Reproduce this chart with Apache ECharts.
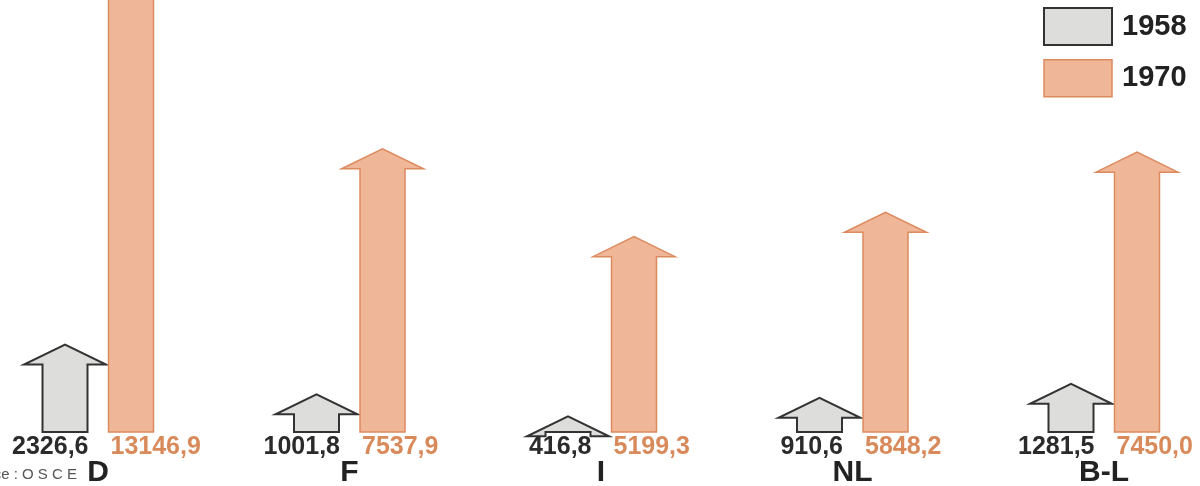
<!DOCTYPE html>
<html>
<head>
<meta charset="utf-8">
<script src="https://cdn.jsdelivr.net/npm/echarts@6/dist/echarts.min.js"></script>
<style>
html,body{margin:0;padding:0;background:#fff;}
#chart{width:1200px;height:486px;}
</style>
</head>
<body>
<div id="chart"></div>
<script>
var categories = ['D', 'F', 'I', 'NL', 'B-L'];
var values1958 = [2326.6, 1001.8, 416.8, 910.6, 1281.5];
var values1970 = [13146.9, 7537.9, 5199.3, 5848.2, 7450.0];
var labels1958 = ['2326,6', '1001,8', '416,8', '910,6', '1281,5'];
var labels1970 = ['13146,9', '7537,9', '5199,3', '5848,2', '7450,0'];
var seriesNames = ['1958', '1970'];

var FONT = '"Liberation Sans", Arial, Helvetica, sans-serif';
var styles = {
  '1958': { fill: '#dddddb', stroke: '#333333', lw: 2, text: '#2b2b2b', offset: -33 },
  '1970': { fill: '#efb697', stroke: '#dc8a5e', lw: 1.5, text: '#d98a5a', offset: 33 }
};

function makeRender(name, labels) {
  var st = styles[name];
  return function (params, api) {
    var idx = api.value(0);
    var top = api.coord([idx, api.value(1)]);
    var base = api.coord([idx, 0]);
    var cx = base[0] + st.offset;
    var bw = 22.5, hw = 41, hh = 20;
    var tipY = top[1], by = base[1];
    var headBase = tipY + hh;
    var pts = [
      [cx - bw, by], [cx - bw, headBase], [cx - hw, headBase], [cx, tipY],
      [cx + hw, headBase], [cx + bw, headBase], [cx + bw, by]
    ];
    var isLeft = name === '1958';
    return {
      type: 'group',
      children: [
        { type: 'polygon', shape: { points: pts },
          style: { fill: st.fill, stroke: st.stroke, lineWidth: st.lw, lineJoin: 'miter' } },
        { type: 'text',
          style: {
            text: labels[params.dataIndex],
            x: isLeft ? cx + bw + 1 : cx - bw + 2,
            y: by + 15,
            align: isLeft ? 'right' : 'left',
            verticalAlign: 'middle',
            fill: st.text,
            font: 'bold 25px ' + FONT
          } }
      ]
    };
  };
}

var option = {
  animation: false,
  grid: { left: 0, right: 0, top: 0, bottom: 54, containLabel: false, outerBoundsMode: 'none' },
  xAxis: {
    type: 'value',
    min: -0.3897,
    max: 4.3817,
    splitLine: { show: false },
    axisLine: { show: false },
    axisTick: { show: false },
    axisLabel: {
      customValues: [0, 1, 2, 3, 4],
      formatter: function (v) { return categories[Math.round(v)] || ''; },
      margin: 26, fontSize: 30, fontWeight: 'bold', color: '#222', fontFamily: FONT
    }
  },
  yAxis: { type: 'value', min: 0, max: 11500, show: false, splitLine: { show: false } },
  legend: {
    orient: 'vertical',
    left: 1043, top: 7, padding: 0,
    itemWidth: 68, itemHeight: 37, itemGap: 13,
    textStyle: { fontSize: 29, fontWeight: 'bold', color: '#222', fontFamily: FONT, padding: [0, 0, 0, 5] },
    data: [
      { name: '1958', icon: 'rect', itemStyle: { color: styles['1958'].fill, borderColor: styles['1958'].stroke, borderWidth: 2 } },
      { name: '1970', icon: 'rect', itemStyle: { color: styles['1970'].fill, borderColor: styles['1970'].stroke, borderWidth: 1.5 } }
    ]
  },
  graphic: [
    { type: 'text', right: 1123, top: 467,
      style: { text: 'Source : O S C E', font: '15px ' + FONT, fill: '#555', align: 'right' } }
  ],
  series: [
    { name: '1958', type: 'custom', clip: false,
      itemStyle: { color: styles['1958'].fill, borderColor: styles['1958'].stroke },
      renderItem: makeRender('1958', labels1958),
      encode: { x: 0, y: 1 },
      data: values1958.map(function (v, i) { return [i, v]; }) },
    { name: '1970', type: 'custom', clip: false,
      itemStyle: { color: styles['1970'].fill, borderColor: styles['1970'].stroke },
      renderItem: makeRender('1970', labels1970),
      encode: { x: 0, y: 1 },
      data: values1970.map(function (v, i) { return [i, v]; }) }
  ]
};

var chart = echarts.init(document.getElementById('chart'), null, { renderer: 'canvas' });
chart.setOption(option);
</script>
</body>
</html>
